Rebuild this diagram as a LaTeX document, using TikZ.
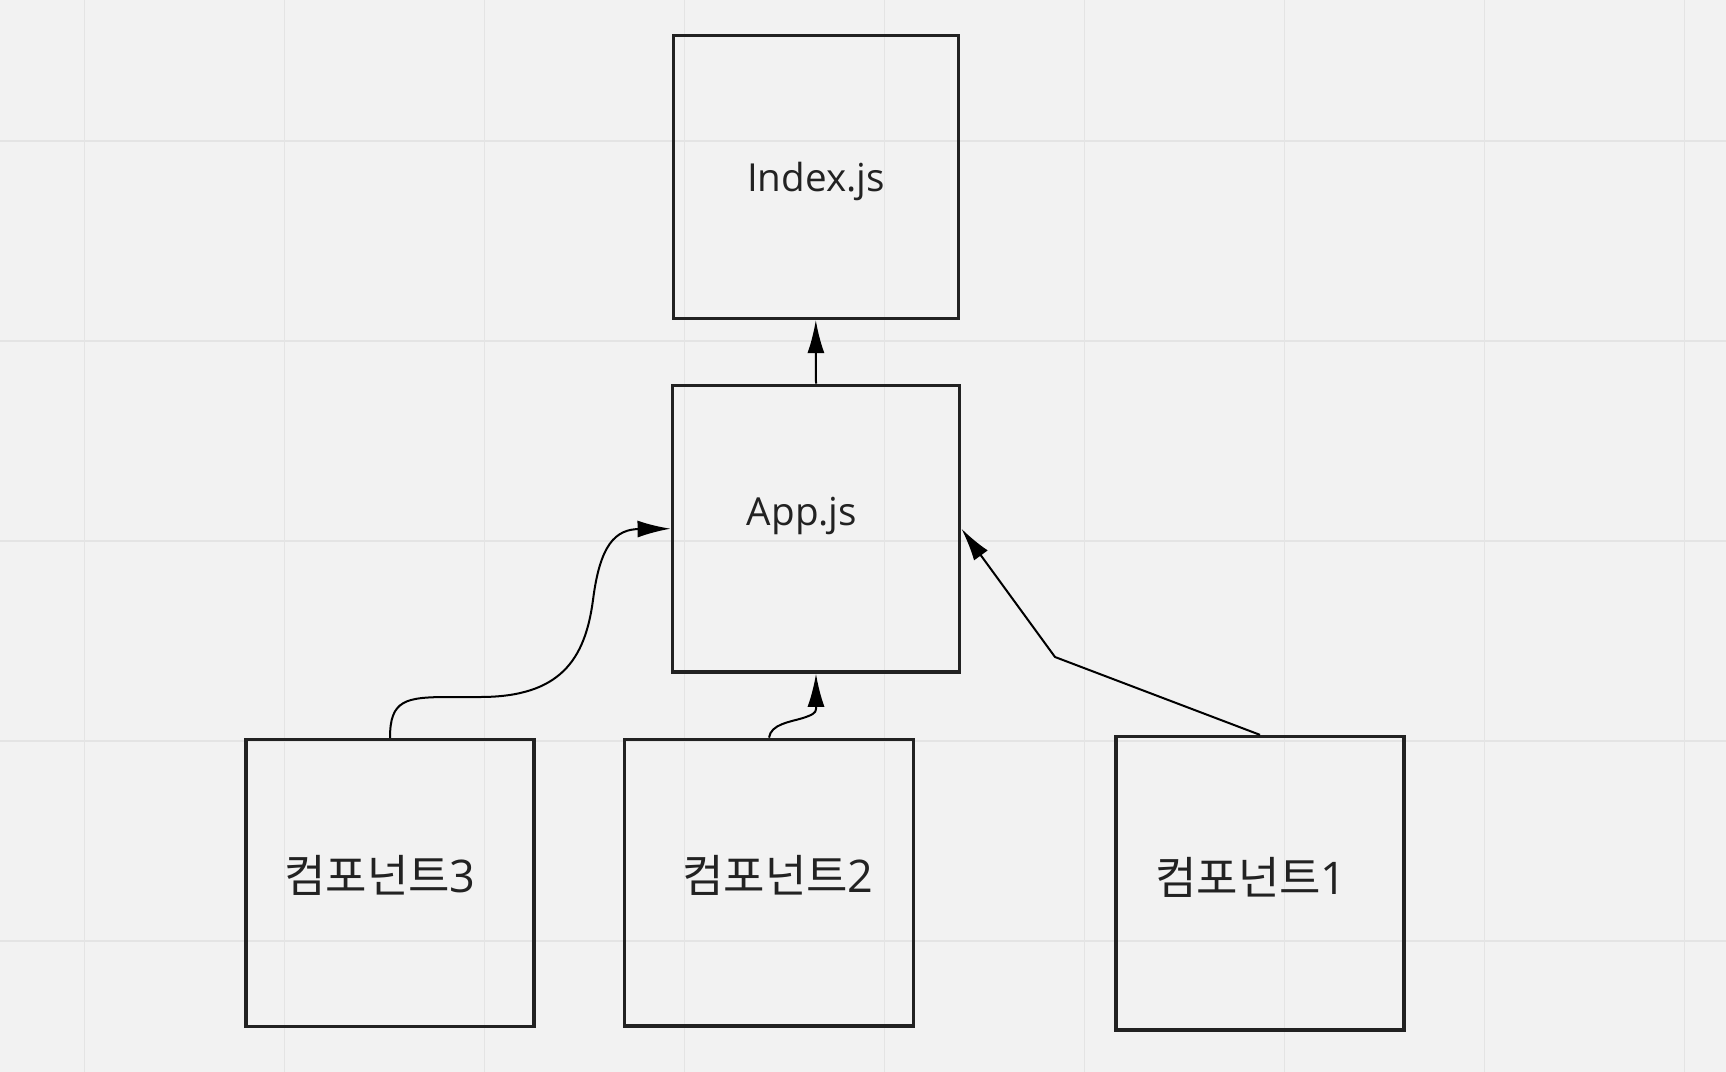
\documentclass[tikz,border=0pt]{standalone}
\usepackage{fontspec}
\setmainfont{Open Sans}
\newfontfamily\cjk{Noto Sans CJK KR}
\usetikzlibrary{arrows.meta}
\definecolor{bg}{HTML}{F2F2F2}
\definecolor{gridc}{HTML}{E4E4E4}
\definecolor{ink}{HTML}{222222}
\tikzset{
  box/.style={draw=ink, line width=1.75pt, rectangle, inner sep=0pt},
  lbl/.style={anchor=base, inner sep=0pt, text=ink, font=\fontsize{19.3pt}{23pt}\selectfont},
  klbl/.style={anchor=base, inner sep=0pt, text=ink, font=\fontsize{22.5pt}{27pt}\selectfont},
  conn/.style={draw=black, line width=1pt, -{Latex[length=16.5pt,width=8.5pt]}},
  gridline/.style={draw=gridc, line width=0.75pt}
}
\begin{document}
\begin{tikzpicture}[x=0.5pt,y=-0.5pt]
\useasboundingbox (0,0) rectangle (1726,1072);
\fill[bg] (0,0) rectangle (1726,1072);
\foreach \gx in {84.5,284.5,484.5,684.5,884.5,1084.5,1284.5,1484.5,1684.5}
  \draw[gridline] (\gx,0) -- (\gx,1072);
\foreach \gy in {141,341,541,741,941}
  \draw[gridline] (0,\gy) -- (1726,\gy);

% boxes
\node[box, minimum width=142.5pt, minimum height=141.5pt] (idx) at (815.8,176.8) {};
\node[box, minimum width=143.7pt, minimum height=143.3pt] (app) at (816,528.7) {};
\node[box, minimum width=144pt, minimum height=143.5pt] (c3) at (390,883.2) {};
\node[box, minimum width=144.3pt, minimum height=143.3pt] (c2) at (769,882.7) {};
\node[box, minimum width=144pt, minimum height=146.7pt] (c1) at (1260,883.3) {};

% labels
\node[lbl] (tidx) at (816,191.5) {Index.js};
\node[lbl] (tapp) at (802,525) {App.js};
\node[klbl] (tc3) at (380,892.5) {{\cjk 컴포넌트}3};
\node[klbl] (tc2) at (778,892.5) {{\cjk 컴포넌트}2};
\node[klbl] (tc1) at (1251,894) {{\cjk 컴포넌트}1};

% connectors
\draw[conn] (app.north) -- (idx.south);
\draw[conn] (c3.north) .. controls +(0,-38) and (405,697) .. (450,697)
  -- (480,697) .. controls (560,697) and (585,660) .. (593,600)
  .. controls (600,545) and (615,529) .. (640,529) -- (app.west);
\draw[conn] (c2.north) .. controls (771,724) and (790,722) .. (803,718)
  .. controls (812,715) and (816,713) .. (816,709) -- (app.south);
\coordinate (bend) at (1055,657);
\draw[conn] (c1.north) -- (bend) -- (app.east);
\end{tikzpicture}
\end{document}
